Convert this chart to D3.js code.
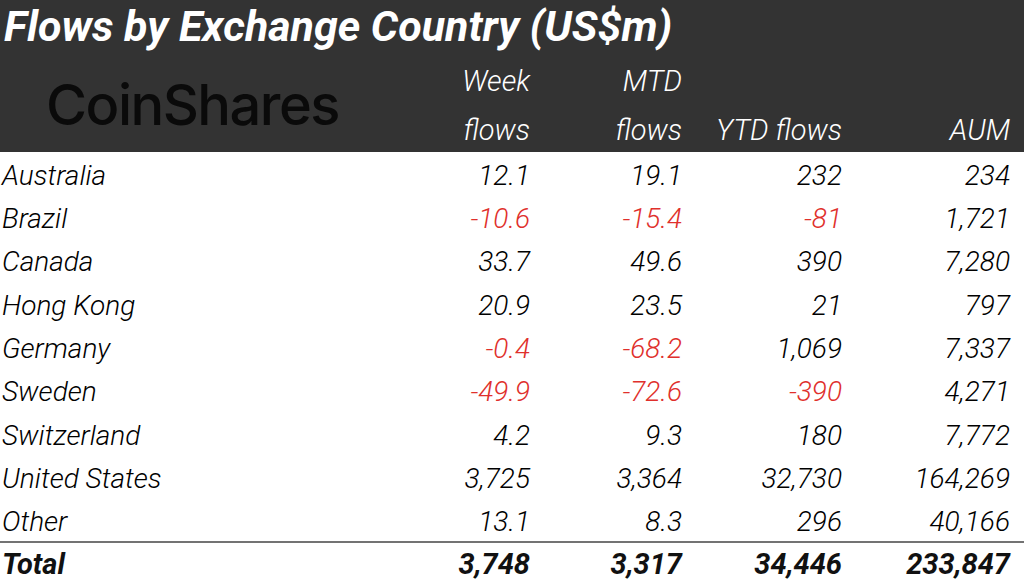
<!DOCTYPE html>
<html lang="en">
  <head>
    <meta charset="UTF-8" />
    <title>Flows by Exchange Country</title>
    <script src="https://d3js.org/d3.v7.min.js"></script>
    <style>
      body { margin: 0; background: #fff; }
      svg { display: block; }
      text { font-family: "Roboto", sans-serif; }
    </style>
  </head>
  <body>
    <svg width="1024" height="584"></svg>
    <script>
      const countries = ["Australia", "Brazil", "Canada", "Hong Kong", "Germany", "Sweden", "Switzerland", "United States", "Other"];
      const weekFlows = ["12.1", "-10.6", "33.7", "20.9", "-0.4", "-49.9", "4.2", "3,725", "13.1"];
      const mtdFlows = ["19.1", "-15.4", "49.6", "23.5", "-68.2", "-72.6", "9.3", "3,364", "8.3"];
      const ytdFlows = ["232", "-81", "390", "21", "1,069", "-390", "180", "32,730", "296"];
      const aum = ["234", "1,721", "7,280", "797", "7,337", "4,271", "7,772", "164,269", "40,166"];
      const totals = ["3,748", "3,317", "34,446", "233,847"];
      const columns = ["week", "mtd", "ytd", "aum"];
      const headTop = ["Week", "MTD", "", ""];
      const headBottom = ["flows", "flows", "YTD flows", "AUM"];

      const svg = d3.select("svg");
      const cols = [weekFlows, mtdFlows, ytdFlows, aum];

      // right edge of each column
      const x = d3.scaleOrdinal().domain(columns).range([530, 682, 842, 1010]);
      const y = d3.scaleBand().domain(countries).range([153, 543]);

      // header band
      svg.append("rect").attr("width", 1024).attr("height", 152).attr("fill", "#333333");
      svg.append("text").attr("x", 4).attr("y", 41)
        .attr("font-style", "italic").attr("font-weight", "bold")
        .attr("font-size", 43).attr("fill", "#fff")
        .text("Flows by Exchange Country (US$m)");
      svg.append("text").attr("x", 46).attr("y", 125)
        .style("font-family", "Inter, 'Noto Sans', sans-serif")
        .attr("font-size", 56).attr("font-weight", 500).attr("fill", "#0a0a0a")
        .attr("letter-spacing", -1.5)
        .text("CoinShares");

      const head = svg.append("g").attr("fill", "#fff").attr("font-size", 29)
        .attr("font-style", "italic").attr("font-weight", 300).attr("text-anchor", "end");
      columns.forEach((c, i) => {
        head.append("text").attr("x", x(c)).attr("y", 91).text(headTop[i]);
        head.append("text").attr("x", x(c)).attr("y", 140).text(headBottom[i]);
      });

      // body rows
      const rows = svg.append("g").selectAll("g").data(countries).join("g")
        .attr("transform", d => `translate(0,${y(d) + y.bandwidth() / 2 + 10})`)
        .attr("font-size", 28).attr("font-style", "italic").attr("font-weight", 300);
      rows.append("text").attr("x", 2).attr("fill", "#000").text(d => d);
      columns.forEach((c, ci) => {
        rows.append("text").attr("x", x(c)).attr("text-anchor", "end")
          .attr("fill", (d, i) => cols[ci][i].startsWith("-") ? "#e0302c" : "#000")
          .text((d, i) => cols[ci][i]);
      });

      // total line and row
      svg.append("line").attr("x1", 0).attr("x2", 1024).attr("y1", 542).attr("y2", 542)
        .attr("stroke", "#444").attr("stroke-width", 1.5);
      const tot = svg.append("g").attr("font-size", 29).attr("font-weight", "bold")
        .attr("font-style", "italic").attr("fill", "#111");
      tot.append("text").attr("x", 2).attr("y", 574).text("Total");
      columns.forEach((c, i) => {
        tot.append("text").attr("x", x(c)).attr("y", 574).attr("text-anchor", "end").text(totals[i]);
      });
    </script>
  </body>
</html>
